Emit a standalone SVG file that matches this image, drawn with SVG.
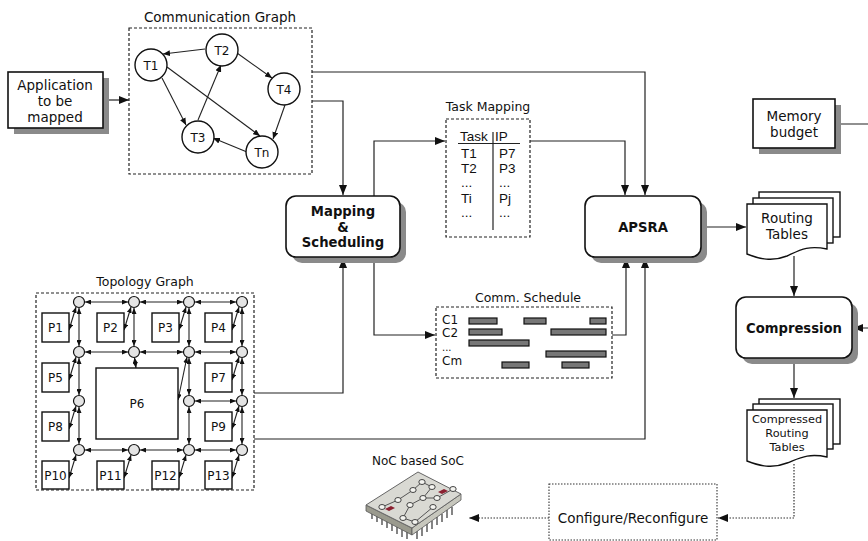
<svg xmlns="http://www.w3.org/2000/svg" width="868" height="541" viewBox="0 0 868 541">
  <style>
    text { font-family: "DejaVu Sans", Verdana, sans-serif; fill: #111; }
    .t { font-size: 13.5px; text-anchor: middle; }
    .title { font-size: 12.5px; text-anchor: middle; }
    .bold { font-size: 13.2px; font-weight: bold; text-anchor: middle; }
    .tbl { font-family: "Liberation Sans", Arial, sans-serif; font-size: 13.5px; }
    .small { font-size: 12px; text-anchor: middle; }
    .lbl { font-size: 12px; }
    .dotbox { fill: none; stroke: #222; stroke-width: 1.2; stroke-dasharray: 3 2; }
    .box { fill: #fff; stroke: #111; stroke-width: 1.6; }
    .shadow { fill: #8a8a8a; }
    .conn { fill: none; stroke: #222; stroke-width: 1.2; marker-end: url(#arr); }
    .dconn { fill: none; stroke: #333; stroke-width: 1.2; stroke-dasharray: 1.5 1.5; marker-end: url(#arr); }
    .edge { stroke: #222; stroke-width: 1.1; marker-end: url(#sarr); }
    .task { fill: #fff; stroke: #111; stroke-width: 1.4; }
    .router { fill: #e4e4e4; stroke: #111; stroke-width: 1.2; }
    .pe { fill: #fff; stroke: #111; stroke-width: 1.4; }
    .link { stroke: #222; stroke-width: 1.1; marker-start: url(#tarr); marker-end: url(#tarr); }
    .bar { fill: #777; stroke: #111; stroke-width: 1.2; }
    .page { fill: #fff; stroke: #111; stroke-width: 1.4; }
  </style>
  <defs>
    <marker id="arr" viewBox="0 0 10 8" refX="10" refY="4" markerWidth="10" markerHeight="8" markerUnits="userSpaceOnUse" orient="auto">
      <path d="M0,0 L10,4 L0,8 Z" fill="#111"/>
    </marker>
    <marker id="sarr" viewBox="0 0 7 6" refX="7" refY="3" markerWidth="7" markerHeight="6" markerUnits="userSpaceOnUse" orient="auto">
      <path d="M0,0 L7,3 L0,6 Z" fill="#111"/>
    </marker>
    <marker id="tarr" viewBox="0 0 6 5" refX="6" refY="2.5" markerWidth="6" markerHeight="5" markerUnits="userSpaceOnUse" orient="auto-start-reverse">
      <path d="M0,0 L6,2.5 L0,5 Z" fill="#111"/>
    </marker>
  </defs>

  <!-- connectors between the blocks -->
  <g id="connectors">
    <path class="conn" d="M103,100 H129"/>
    <path class="conn" d="M312,101 H343 V195"/>
    <path class="conn" d="M312,72 H645 V195"/>
    <path class="conn" d="M374,196 V141 H445"/>
    <path class="conn" d="M530,141 H625 V195"/>
    <path class="conn" d="M254,393 H343 V258"/>
    <path class="conn" d="M374,257 V335 H435"/>
    <path class="conn" d="M612,335 H626 V258"/>
    <path class="conn" d="M254,439 H645 V258"/>
    <path class="conn" d="M701,227 H746"/>
    <path class="conn" d="M794,256 V296"/>
    <path class="conn" d="M835,124 H880 V328 H853"/>
    <path class="conn" d="M794,358 V398"/>
    <path class="dconn" d="M794,464 V518 H718"/>
    <path class="dconn" d="M549,518 H469"/>
  </g>

  <!-- application input -->
  <g id="application">
    <rect class="shadow" x="14" y="78" width="95" height="56"/>
    <rect class="box" x="8" y="72" width="95" height="56"/>
    <text class="t" x="55" y="90">Application</text>
    <text class="t" x="55" y="106">to be</text>
    <text class="t" x="55" y="122">mapped</text>
  </g>

  <!-- communication graph -->
  <g id="communication-graph">
    <text x="220" y="22" style="font-size:13.5px;text-anchor:middle">Communication Graph</text>
    <rect class="dotbox" x="129" y="28" width="183" height="146"/>
    <line class="edge" x1="205" y1="49" x2="163" y2="54"/>
    <line class="edge" x1="237" y1="53" x2="272" y2="78"/>
    <line class="edge" x1="162" y1="78" x2="186" y2="125"/>
    <line class="edge" x1="198" y1="120" x2="221" y2="65"/>
    <line class="edge" x1="167" y1="67" x2="260" y2="136"/>
    <line class="edge" x1="285" y1="105" x2="273" y2="139"/>
    <line class="edge" x1="247" y1="152" x2="213" y2="138"/>
    <g id="T1"><circle class="task" cx="151" cy="65" r="16"/><text class="small" x="151" y="69.5">T1</text></g>
    <g id="T2"><circle class="task" cx="222" cy="50" r="16"/><text class="small" x="222" y="54.5">T2</text></g>
    <g id="T4"><circle class="task" cx="284" cy="89" r="16"/><text class="small" x="284" y="93.5">T4</text></g>
    <g id="T3"><circle class="task" cx="198" cy="137" r="16"/><text class="small" x="198" y="141.5">T3</text></g>
    <g id="Tn"><circle class="task" cx="262" cy="152" r="16"/><text class="small" x="262" y="156.5">Tn</text></g>
  </g>

  <!-- mapping and scheduling -->
  <g id="mapping-scheduling">
    <rect class="shadow" x="292" y="202" width="114" height="61" rx="10"/>
    <rect class="box" x="286" y="196" width="114" height="61" rx="10"/>
    <text class="bold" x="343" y="216">Mapping</text>
    <text class="bold" x="343" y="232">&amp;</text>
    <text class="bold" x="343" y="247">Scheduling</text>
  </g>

  <!-- task mapping table -->
  <g id="task-mapping">
    <text class="title" x="488" y="111">Task Mapping</text>
    <rect class="dotbox" x="446" y="119" width="84" height="118"/>
    <line x1="458" y1="143.5" x2="520" y2="143.5" stroke="#222" stroke-width="1.2"/>
    <line x1="493" y1="132" x2="493" y2="230" stroke="#222" stroke-width="1.2"/>
    <text class="tbl" x="460" y="141">Task</text>
    <text class="tbl" x="495" y="141">IP</text>
    <text class="tbl" x="461" y="158">T1</text><text class="tbl" x="499" y="158">P7</text>
    <text class="tbl" x="461" y="173">T2</text><text class="tbl" x="499" y="173">P3</text>
    <text class="tbl" x="461" y="187">...</text><text class="tbl" x="499" y="187">...</text>
    <text class="tbl" x="461" y="203">Ti</text><text class="tbl" x="499" y="203">Pj</text>
    <text class="tbl" x="461" y="217">...</text><text class="tbl" x="499" y="217">...</text>
  </g>

  <!-- APSRA -->
  <g id="apsra">
    <rect class="shadow" x="591" y="202" width="116" height="61" rx="10"/>
    <rect class="box" x="585" y="196" width="116" height="61" rx="10"/>
    <text class="bold" x="643" y="232">APSRA</text>
  </g>

  <!-- memory budget -->
  <g id="memory-budget">
    <rect class="shadow" x="759" y="105" width="82" height="49"/>
    <rect class="box" x="753" y="99" width="82" height="49"/>
    <text class="t" x="794" y="121">Memory</text>
    <text class="t" x="794" y="137">budget</text>
  </g>

  <!-- routing tables -->
  <g id="routing-tables">
    <rect class="page" x="759" y="192" width="81" height="45"/>
    <rect class="page" x="753" y="198" width="80" height="45"/>
    <path class="page" d="M747,204 H827 V249 C808,245 800,250 787,256 C772,262 760,259 747,254 Z"/>
    <text class="t" x="787" y="223">Routing</text>
    <text class="t" x="787" y="239">Tables</text>
  </g>

  <!-- compression -->
  <g id="compression">
    <rect class="shadow" x="742" y="303" width="116" height="61" rx="10"/>
    <rect class="box" x="736" y="297" width="116" height="61" rx="10"/>
    <text class="bold" x="794" y="333">Compression</text>
  </g>

  <!-- compressed routing tables -->
  <g id="compressed-tables">
    <rect class="page" x="759" y="399" width="81" height="45"/>
    <rect class="page" x="753" y="404" width="80" height="45"/>
    <path class="page" d="M747,410 H827 V457 C808,453 800,458 787,463 C772,469 760,466 747,461 Z"/>
    <text x="787" y="423" style="font-size:11.3px;text-anchor:middle">Compressed</text>
    <text x="787" y="437" style="font-size:11.3px;text-anchor:middle">Routing</text>
    <text x="787" y="451" style="font-size:11.3px;text-anchor:middle">Tables</text>
  </g>

  <!-- configure step -->
  <g id="configure">
    <rect x="549" y="484" width="168" height="56" fill="#fff" stroke="#333" stroke-width="1.1" stroke-dasharray="1.5 1.5"/>
    <text class="t" x="633" y="523">Configure/Reconfigure</text>
  </g>

  <!-- communication schedule -->
  <g id="comm-schedule">
    <text class="title" x="528" y="302">Comm. Schedule</text>
    <rect class="dotbox" x="436" y="307" width="176" height="71"/>
    <text class="lbl" x="442" y="324">C1</text>
    <text class="lbl" x="442" y="337">C2</text>
    <text x="442" y="351" style="font-size:10px">...</text>
    <text class="lbl" x="442" y="365">Cm</text>
    <rect class="bar" x="469" y="318" width="28" height="6"/>
    <rect class="bar" x="524" y="318" width="22" height="6"/>
    <rect class="bar" x="590" y="318" width="16" height="6"/>
    <rect class="bar" x="469" y="329" width="33" height="6"/>
    <rect class="bar" x="551" y="329" width="55" height="6"/>
    <rect class="bar" x="469" y="340" width="60" height="6"/>
    <rect class="bar" x="546" y="351" width="60" height="6"/>
    <rect class="bar" x="502" y="362" width="27" height="6"/>
    <rect class="bar" x="562" y="362" width="27" height="6"/>
  </g>

  <!-- topology graph -->
  <g id="topology-graph">
    <text class="title" x="145" y="286">Topology Graph</text>
    <rect class="dotbox" x="36" y="293" width="218" height="197"/>
    <!-- router to router links -->
    <g id="mesh-links">
      <line class="link" x1="85" y1="302" x2="128" y2="302"/>
      <line class="link" x1="140" y1="302" x2="183" y2="302"/>
      <line class="link" x1="195" y1="302" x2="236" y2="302"/>
      <line class="link" x1="85" y1="352" x2="128" y2="352"/>
      <line class="link" x1="140" y1="352" x2="183" y2="352"/>
      <line class="link" x1="195" y1="352" x2="236" y2="352"/>
      <line class="link" x1="195" y1="401" x2="236" y2="401"/>
      <line class="link" x1="85" y1="450" x2="128" y2="450"/>
      <line class="link" x1="140" y1="450" x2="183" y2="450"/>
      <line class="link" x1="195" y1="450" x2="236" y2="450"/>
      <line class="link" x1="79" y1="308" x2="79" y2="346"/>
      <line class="link" x1="79" y1="358" x2="79" y2="395"/>
      <line class="link" x1="79" y1="407" x2="79" y2="444"/>
      <line class="link" x1="134" y1="308" x2="134" y2="346"/>
      <line class="link" x1="189" y1="308" x2="189" y2="346"/>
      <line class="link" x1="189" y1="358" x2="189" y2="395"/>
      <line class="link" x1="189" y1="407" x2="189" y2="444"/>
      <line class="link" x1="242" y1="308" x2="242" y2="346"/>
      <line class="link" x1="242" y1="358" x2="242" y2="395"/>
      <line class="link" x1="242" y1="407" x2="242" y2="444"/>
    </g>
    <!-- processor to router links -->
    <g id="pe-links">
      <line class="link" x1="69" y1="330" x2="76" y2="307"/>
      <line class="link" x1="124" y1="330" x2="131" y2="307"/>
      <line class="link" x1="179" y1="330" x2="186" y2="307"/>
      <line class="link" x1="232" y1="330" x2="239" y2="307"/>
      <line class="link" x1="69" y1="380" x2="76" y2="357"/>
      <line class="link" x1="232" y1="380" x2="239" y2="357"/>
      <line class="link" x1="69" y1="429" x2="76" y2="406"/>
      <line class="link" x1="232" y1="429" x2="239" y2="406"/>
      <line class="link" x1="69" y1="478" x2="76" y2="455"/>
      <line class="link" x1="124" y1="478" x2="131" y2="455"/>
      <line class="link" x1="179" y1="478" x2="186" y2="455"/>
      <line class="link" x1="232" y1="478" x2="239" y2="455"/>
      <line class="link" x1="134.5" y1="357.5" x2="136" y2="368"/>
      <line class="link" x1="187" y1="357" x2="178" y2="400"/>
    </g>
    <g id="routers">
      <circle class="router" cx="79" cy="302" r="5.5"/>
      <circle class="router" cx="134" cy="302" r="5.5"/>
      <circle class="router" cx="189" cy="302" r="5.5"/>
      <circle class="router" cx="242" cy="302" r="5.5"/>
      <circle class="router" cx="79" cy="352" r="5.5"/>
      <circle class="router" cx="134" cy="352" r="5.5"/>
      <circle class="router" cx="189" cy="352" r="5.5"/>
      <circle class="router" cx="242" cy="352" r="5.5"/>
      <circle class="router" cx="79" cy="401" r="5.5"/>
      <circle class="router" cx="189" cy="401" r="5.5"/>
      <circle class="router" cx="242" cy="401" r="5.5"/>
      <circle class="router" cx="79" cy="450" r="5.5"/>
      <circle class="router" cx="134" cy="450" r="5.5"/>
      <circle class="router" cx="189" cy="450" r="5.5"/>
      <circle class="router" cx="242" cy="450" r="5.5"/>
    </g>
    <g id="P1"><rect class="pe" x="42" y="313" width="27" height="29"/><text class="small" x="55.5" y="332">P1</text></g>
    <g id="P2"><rect class="pe" x="97" y="313" width="27" height="29"/><text class="small" x="110.5" y="332">P2</text></g>
    <g id="P3"><rect class="pe" x="152" y="313" width="27" height="29"/><text class="small" x="165.5" y="332">P3</text></g>
    <g id="P4"><rect class="pe" x="205" y="313" width="27" height="29"/><text class="small" x="218.5" y="332">P4</text></g>
    <g id="P5"><rect class="pe" x="42" y="363" width="27" height="29"/><text class="small" x="55.5" y="382">P5</text></g>
    <g id="P6"><rect class="pe" x="96" y="368" width="82" height="71"/><text class="small" x="137" y="408">P6</text></g>
    <g id="P7"><rect class="pe" x="205" y="363" width="27" height="29"/><text class="small" x="218.5" y="382">P7</text></g>
    <g id="P8"><rect class="pe" x="42" y="412" width="27" height="29"/><text class="small" x="55.5" y="431">P8</text></g>
    <g id="P9"><rect class="pe" x="205" y="412" width="27" height="29"/><text class="small" x="218.5" y="431">P9</text></g>
    <g id="P10"><rect class="pe" x="42" y="461" width="27" height="28"/><text class="small" x="55.5" y="480">P10</text></g>
    <g id="P11"><rect class="pe" x="97" y="461" width="27" height="28"/><text class="small" x="110.5" y="480">P11</text></g>
    <g id="P12"><rect class="pe" x="152" y="461" width="27" height="28"/><text class="small" x="165.5" y="480">P12</text></g>
    <g id="P13"><rect class="pe" x="205" y="461" width="27" height="28"/><text class="small" x="218.5" y="480">P13</text></g>
  </g>

  <!-- NoC based SoC chip -->
  <g id="noc-soc">
    <text x="418" y="465" style="font-size:12px;text-anchor:middle">NoC based SoC</text>
    <g stroke="#333" stroke-width="1.2">
      <line x1="372" y1="512" x2="372" y2="519"/><line x1="377" y1="515" x2="377" y2="522"/>
      <line x1="382" y1="518" x2="382" y2="525"/><line x1="387" y1="521" x2="387" y2="528"/>
      <line x1="392" y1="524" x2="392" y2="531"/><line x1="397" y1="527" x2="397" y2="534"/>
      <line x1="402" y1="530" x2="402" y2="537"/><line x1="407" y1="532" x2="407" y2="539"/>
      <line x1="417" y1="531" x2="417" y2="539"/><line x1="422" y1="528" x2="422" y2="536"/>
      <line x1="427" y1="524" x2="427" y2="532"/><line x1="432" y1="521" x2="432" y2="529"/>
      <line x1="437" y1="517" x2="437" y2="525"/><line x1="442" y1="514" x2="442" y2="522"/>
      <line x1="447" y1="510" x2="447" y2="518"/><line x1="452" y1="507" x2="452" y2="515"/>
    </g>
    <polygon points="366,505 412,528 412,535 366,511" fill="#9a9a8e" stroke="#555" stroke-width="0.8"/>
    <polygon points="412,528 461,494 461,500 412,535" fill="#c7c7bd" stroke="#555" stroke-width="0.8"/>
    <polygon points="366,505 418,472 461,494 412,528" fill="#d9d9d3" stroke="#666" stroke-width="1"/>
    <g fill="none" stroke="#555" stroke-width="1">
      <path d="M413,490 L422,482 L432,487 L423,498 L437,498 L453,489"/>
      <path d="M382,507 L398,500 L413,490"/>
      <path d="M410,505 L423,498 M403,518 L415,522 L433,507"/>
      <path d="M410,505 L403,518"/>
    </g>
    <g fill="#f4f4f0" stroke="#444" stroke-width="1">
      <ellipse cx="422" cy="482" rx="3.2" ry="2.5"/>
      <ellipse cx="432" cy="487" rx="3.2" ry="2.5"/>
      <ellipse cx="413" cy="490" rx="3.2" ry="2.5"/>
      <ellipse cx="398" cy="500" rx="3.2" ry="2.5"/>
      <ellipse cx="423" cy="498" rx="3.2" ry="2.5"/>
      <ellipse cx="437" cy="498" rx="3.2" ry="2.5"/>
      <ellipse cx="453" cy="489" rx="3.2" ry="2.5"/>
      <ellipse cx="382" cy="507" rx="3.2" ry="2.5"/>
      <ellipse cx="410" cy="505" rx="3.2" ry="2.5"/>
      <ellipse cx="433" cy="507" rx="3.2" ry="2.5"/>
      <ellipse cx="403" cy="518" rx="3.2" ry="2.5"/>
      <ellipse cx="415" cy="522" rx="3.2" ry="2.5"/>
    </g>
    <polygon points="438,492 444,489 448,491 442,494" fill="#8b2030"/>
    <polygon points="385,509 391,506 395,508 389,511" fill="#8b2030"/>
  </g>
</svg>
